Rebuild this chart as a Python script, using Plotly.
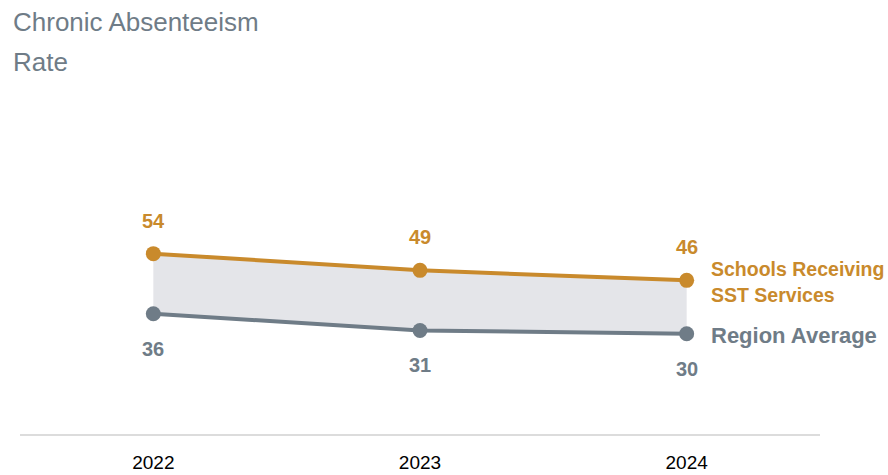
import plotly.graph_objects as go

years = ["2022", "2023", "2024"]
schools_sst = [54, 49, 46]
region_avg = [36, 31, 30]
title_lines = ["Chronic Absenteeism", "Rate"]
school_name_lines = ["Schools Receiving", "SST Services"]
region_name = "Region Average"

ORANGE = "#c98a2c"
GRAY = "#6f7c87"
FILL = "#e4e5e9"
FONT = "Liberation Sans Narrow, Arial Narrow, Liberation Sans, Arial, sans-serif"

fig = go.Figure()
fig.add_trace(go.Scatter(x=years, y=region_avg, mode="lines", line=dict(width=0, color=FILL),
                         hoverinfo="skip", showlegend=False))
fig.add_trace(go.Scatter(x=years, y=schools_sst, mode="lines", line=dict(width=0, color=FILL),
                         fill="tonexty", fillcolor=FILL, hoverinfo="skip", showlegend=False))
fig.add_trace(go.Scatter(x=years, y=region_avg, mode="lines+markers",
                         line=dict(color=GRAY, width=4), marker=dict(size=15, color=GRAY),
                         showlegend=False))
fig.add_trace(go.Scatter(x=years, y=schools_sst, mode="lines+markers",
                         line=dict(color=ORANGE, width=4), marker=dict(size=15, color=ORANGE),
                         showlegend=False))

for i, v in enumerate(schools_sst):
    fig.add_annotation(x=i, y=v, text=str(v), showarrow=False, yanchor="middle", yshift=33,
                       font=dict(color=ORANGE, size=20, family=FONT, weight="bold"))
for i, v in enumerate(region_avg):
    fig.add_annotation(x=i, y=v, text=str(v), showarrow=False, yanchor="middle", yshift=-35,
                       font=dict(color=GRAY, size=20, family=FONT, weight="bold"))

last = len(years) - 1
for k, line in enumerate(school_name_lines):
    fig.add_annotation(x=last, y=schools_sst[-1], text=line, showarrow=False,
                       xanchor="left", yanchor="middle", xshift=22, yshift=11 - 26 * k, align="left",
                       font=dict(color=ORANGE, size=19.5, family=FONT, weight="bold"))
fig.add_annotation(x=last, y=region_avg[-1], text=region_name, showarrow=False,
                   xanchor="left", yanchor="middle", xshift=22, yshift=-2, align="left",
                   font=dict(color=GRAY, size=22, family=FONT, weight="bold"))

# title lines (plot area top at 100px, height 334px)
for k, line in enumerate(title_lines):
    ypx = 22 + 40 * k
    fig.add_annotation(xref="paper", yref="paper", x=-0.011, y=(434 - ypx) / 334, text=line,
                       showarrow=False, xanchor="left", yanchor="middle", align="left",
                       font=dict(color=GRAY, size=26, family=FONT))

fig.update_layout(
    width=888, height=475,
    margin=dict(l=20, r=68, t=100, b=41, autoexpand=False),
    plot_bgcolor="white", paper_bgcolor="white",
    xaxis=dict(type="category", range=[-0.5, 2.5], showgrid=False, showline=True, automargin=False,
               linecolor="#dcdcdc", linewidth=2, ticks="", ticklen=0, ticklabelstandoff=10,
               tickfont=dict(size=19, color="black", family=FONT)),
    yaxis=dict(range=[0, 100], visible=False),
)
fig.write_html("out.html")
